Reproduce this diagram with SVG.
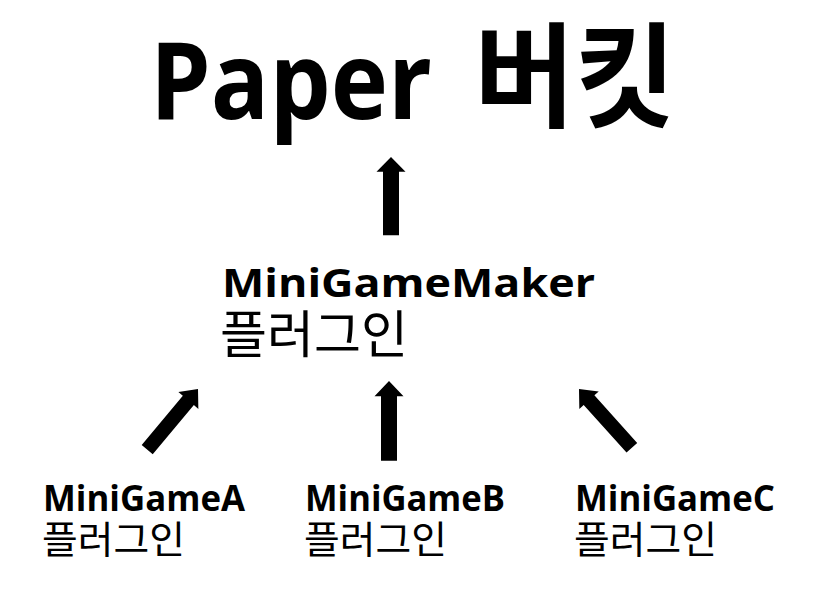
<svg xmlns="http://www.w3.org/2000/svg" width="818" height="600" viewBox="0 0 818 600">
<style>
.lat{font-family:"Open Sans","Noto Sans CJK KR",sans-serif;font-weight:700;fill:#000}
.kor{font-family:"Noto Sans CJK KR","Open Sans",sans-serif;font-weight:400;fill:#000}
.ttlk{font-family:"Noto Sans CJK KR",sans-serif;font-weight:700;fill:#000}
.arr{fill:#000}
</style>
<defs>
<path id="arrow" d="M0,0 L14.5,15 L8,15 L8,79 L-8,79 L-8,15 L-14.5,15 Z"/>
</defs>
<rect width="818" height="600" fill="#fff"/>
<g id="paper">
<text class="lat" x="150" y="119" font-size="107" textLength="282" lengthAdjust="spacingAndGlyphs">Paper</text>
<text class="ttlk" x="474" y="118" font-size="114" textLength="202" lengthAdjust="spacingAndGlyphs">버킷</text>
</g>
<g id="maker">
<text class="lat" x="222" y="297" font-size="40" textLength="373" lengthAdjust="spacingAndGlyphs">MiniGameMaker</text>
<text class="kor" x="220" y="353" font-size="51" textLength="188" lengthAdjust="spacingAndGlyphs">플러그인</text>
</g>
<g id="gameA">
<text class="lat" x="43" y="511" font-size="36" textLength="202" lengthAdjust="spacingAndGlyphs">MiniGameA</text>
<text class="kor" x="42" y="553" font-size="38" textLength="143" lengthAdjust="spacingAndGlyphs">플러그인</text>
</g>
<g id="gameB">
<text class="lat" x="305" y="511" font-size="36" textLength="200" lengthAdjust="spacingAndGlyphs">MiniGameB</text>
<text class="kor" x="304" y="553" font-size="38" textLength="143" lengthAdjust="spacingAndGlyphs">플러그인</text>
</g>
<g id="gameC">
<text class="lat" x="575" y="511" font-size="36" textLength="200" lengthAdjust="spacingAndGlyphs">MiniGameC</text>
<text class="kor" x="574" y="553" font-size="38" textLength="143" lengthAdjust="spacingAndGlyphs">플러그인</text>
</g>
<g id="connectors" class="arr">
<use href="#arrow" transform="translate(391,157) scale(1,0.99)"/>
<use href="#arrow" transform="translate(389,381) scale(1,1.01)"/>
<use href="#arrow" transform="translate(198,389) rotate(40) scale(0.9,1)"/>
<use href="#arrow" transform="translate(579,389) rotate(-42) scale(0.9,1)"/>
</g>
</svg>
